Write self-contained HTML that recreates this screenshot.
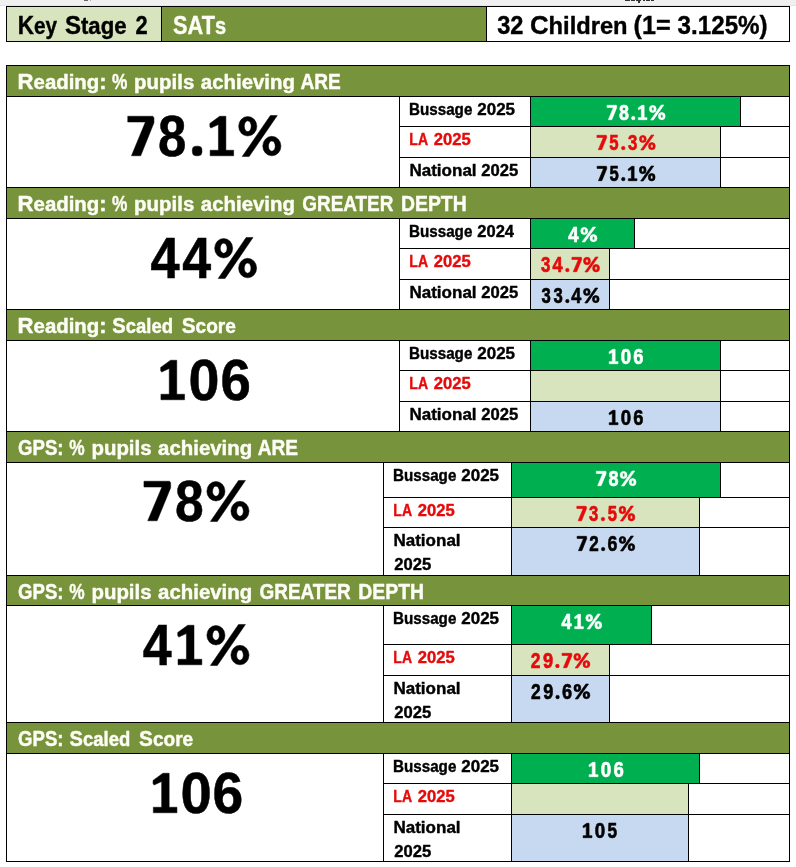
<!DOCTYPE html>
<html><head><meta charset="utf-8"><title>Key Stage 2 SATs</title>
<style>html,body{margin:0;padding:0;background:#fff;width:796px;height:867px;overflow:hidden;font-family:"Liberation Sans",sans-serif}svg{display:block}</style>
</head><body>
<svg width="796" height="867" viewBox="0 0 796 867" shape-rendering="crispEdges">
<rect x="0" y="0" width="796" height="867" fill="#ffffff"/>
<rect x="0" y="0" width="796" height="5" fill="#f0f0f0"/>
<rect x="0" y="5" width="796" height="1" fill="#e4e4e4"/>
<rect x="84" y="0" width="4" height="1" fill="#666666"/>
<rect x="90" y="0" width="1" height="1" fill="#aaaaaa"/>
<rect x="625" y="0" width="5" height="1" fill="#333333"/>
<rect x="631" y="0" width="4" height="1" fill="#333333"/>
<rect x="636" y="0" width="5" height="1" fill="#333333"/>
<rect x="638" y="0" width="2" height="3" fill="#333333"/>
<rect x="643" y="0" width="2" height="1" fill="#333333"/>
<rect x="646" y="0" width="4" height="1" fill="#333333"/>
<rect x="651" y="0" width="3" height="1" fill="#333333"/>
<rect x="6" y="6" width="155" height="35" fill="#d7e4bd"/>
<rect x="161" y="6" width="325" height="35" fill="#77933c"/>
<rect x="486" y="6" width="303" height="35" fill="#ffffff"/>
<rect x="6" y="65" width="783" height="31" fill="#77933c"/>
<rect x="6" y="96" width="783" height="91" fill="#ffffff"/>
<rect x="530" y="96" width="210" height="30" fill="#00b050"/>
<rect x="530" y="126" width="190" height="31" fill="#d7e4bd"/>
<rect x="530" y="157" width="190" height="30" fill="#c6d9f1"/>
<rect x="6" y="187" width="783" height="31" fill="#77933c"/>
<rect x="6" y="218" width="783" height="91" fill="#ffffff"/>
<rect x="530" y="218" width="104" height="30" fill="#00b050"/>
<rect x="530" y="248" width="79" height="31" fill="#d7e4bd"/>
<rect x="530" y="279" width="79" height="30" fill="#c6d9f1"/>
<rect x="6" y="309" width="783" height="31" fill="#77933c"/>
<rect x="6" y="340" width="783" height="91" fill="#ffffff"/>
<rect x="530" y="340" width="190" height="30" fill="#00b050"/>
<rect x="530" y="370" width="190" height="31" fill="#d7e4bd"/>
<rect x="530" y="401" width="190" height="30" fill="#c6d9f1"/>
<rect x="6" y="431" width="783" height="31" fill="#77933c"/>
<rect x="6" y="462" width="783" height="113" fill="#ffffff"/>
<rect x="511" y="462" width="209" height="35" fill="#00b050"/>
<rect x="511" y="497" width="188" height="30" fill="#d7e4bd"/>
<rect x="511" y="527" width="188" height="48" fill="#c6d9f1"/>
<rect x="6" y="575" width="783" height="30" fill="#77933c"/>
<rect x="6" y="605" width="783" height="117" fill="#ffffff"/>
<rect x="511" y="605" width="140" height="39" fill="#00b050"/>
<rect x="511" y="644" width="98" height="31" fill="#d7e4bd"/>
<rect x="511" y="675" width="98" height="47" fill="#c6d9f1"/>
<rect x="6" y="722" width="783" height="31" fill="#77933c"/>
<rect x="6" y="753" width="783" height="108" fill="#ffffff"/>
<rect x="511" y="753" width="188" height="30" fill="#00b050"/>
<rect x="511" y="783" width="177" height="31" fill="#d7e4bd"/>
<rect x="511" y="814" width="177" height="47" fill="#c6d9f1"/>
<rect x="6" y="6" width="784" height="1" fill="#000"/>
<rect x="6" y="41" width="784" height="1" fill="#000"/>
<rect x="6" y="6" width="1" height="36" fill="#000"/>
<rect x="789" y="6" width="1" height="36" fill="#000"/>
<rect x="161" y="6" width="1" height="36" fill="#000"/>
<rect x="486" y="6" width="1" height="36" fill="#000"/>
<rect x="6" y="65" width="784" height="1" fill="#000"/>
<rect x="6" y="96" width="784" height="1" fill="#000"/>
<rect x="6" y="187" width="784" height="1" fill="#000"/>
<rect x="6" y="65" width="1" height="123" fill="#000"/>
<rect x="789" y="65" width="1" height="123" fill="#000"/>
<rect x="399" y="96" width="1" height="92" fill="#000"/>
<rect x="530" y="96" width="1" height="92" fill="#000"/>
<rect x="740" y="96" width="1" height="31" fill="#000"/>
<rect x="399" y="126" width="391" height="1" fill="#000"/>
<rect x="720" y="126" width="1" height="32" fill="#000"/>
<rect x="399" y="157" width="391" height="1" fill="#000"/>
<rect x="720" y="157" width="1" height="31" fill="#000"/>
<rect x="6" y="187" width="784" height="1" fill="#000"/>
<rect x="6" y="218" width="784" height="1" fill="#000"/>
<rect x="6" y="309" width="784" height="1" fill="#000"/>
<rect x="6" y="187" width="1" height="123" fill="#000"/>
<rect x="789" y="187" width="1" height="123" fill="#000"/>
<rect x="399" y="218" width="1" height="92" fill="#000"/>
<rect x="530" y="218" width="1" height="92" fill="#000"/>
<rect x="634" y="218" width="1" height="31" fill="#000"/>
<rect x="399" y="248" width="391" height="1" fill="#000"/>
<rect x="609" y="248" width="1" height="32" fill="#000"/>
<rect x="399" y="279" width="391" height="1" fill="#000"/>
<rect x="609" y="279" width="1" height="31" fill="#000"/>
<rect x="6" y="309" width="784" height="1" fill="#000"/>
<rect x="6" y="340" width="784" height="1" fill="#000"/>
<rect x="6" y="431" width="784" height="1" fill="#000"/>
<rect x="6" y="309" width="1" height="123" fill="#000"/>
<rect x="789" y="309" width="1" height="123" fill="#000"/>
<rect x="399" y="340" width="1" height="92" fill="#000"/>
<rect x="530" y="340" width="1" height="92" fill="#000"/>
<rect x="720" y="340" width="1" height="31" fill="#000"/>
<rect x="399" y="370" width="391" height="1" fill="#000"/>
<rect x="720" y="370" width="1" height="32" fill="#000"/>
<rect x="399" y="401" width="391" height="1" fill="#000"/>
<rect x="720" y="401" width="1" height="31" fill="#000"/>
<rect x="6" y="431" width="784" height="1" fill="#000"/>
<rect x="6" y="462" width="784" height="1" fill="#000"/>
<rect x="6" y="575" width="784" height="1" fill="#000"/>
<rect x="6" y="431" width="1" height="145" fill="#000"/>
<rect x="789" y="431" width="1" height="145" fill="#000"/>
<rect x="383" y="462" width="1" height="114" fill="#000"/>
<rect x="511" y="462" width="1" height="114" fill="#000"/>
<rect x="720" y="462" width="1" height="36" fill="#000"/>
<rect x="383" y="497" width="407" height="1" fill="#000"/>
<rect x="699" y="497" width="1" height="31" fill="#000"/>
<rect x="383" y="527" width="407" height="1" fill="#000"/>
<rect x="699" y="527" width="1" height="49" fill="#000"/>
<rect x="6" y="575" width="784" height="1" fill="#000"/>
<rect x="6" y="605" width="784" height="1" fill="#000"/>
<rect x="6" y="722" width="784" height="1" fill="#000"/>
<rect x="6" y="575" width="1" height="148" fill="#000"/>
<rect x="789" y="575" width="1" height="148" fill="#000"/>
<rect x="383" y="605" width="1" height="118" fill="#000"/>
<rect x="511" y="605" width="1" height="118" fill="#000"/>
<rect x="651" y="605" width="1" height="40" fill="#000"/>
<rect x="383" y="644" width="407" height="1" fill="#000"/>
<rect x="609" y="644" width="1" height="32" fill="#000"/>
<rect x="383" y="675" width="407" height="1" fill="#000"/>
<rect x="609" y="675" width="1" height="48" fill="#000"/>
<rect x="6" y="722" width="784" height="1" fill="#000"/>
<rect x="6" y="753" width="784" height="1" fill="#000"/>
<rect x="6" y="861" width="784" height="1" fill="#000"/>
<rect x="6" y="722" width="1" height="140" fill="#000"/>
<rect x="789" y="722" width="1" height="140" fill="#000"/>
<rect x="383" y="753" width="1" height="109" fill="#000"/>
<rect x="511" y="753" width="1" height="109" fill="#000"/>
<rect x="699" y="753" width="1" height="31" fill="#000"/>
<rect x="383" y="783" width="407" height="1" fill="#000"/>
<rect x="688" y="783" width="1" height="32" fill="#000"/>
<rect x="383" y="814" width="407" height="1" fill="#000"/>
<rect x="688" y="814" width="1" height="48" fill="#000"/>
<g font-family="Liberation Sans, sans-serif" font-weight="bold" shape-rendering="auto" style="will-change:transform">
<text transform="translate(17.72,34.00) scale(0.8756,1)" font-size="25.75" fill="#000000" stroke="#000000" stroke-width="0.4" stroke-linejoin="round"><tspan font-size="25.75">K</tspan><tspan font-size="23.69">ey</tspan></text>
<text transform="translate(64.90,34.00) scale(0.9360,1)" font-size="25.75" fill="#000000" stroke="#000000" stroke-width="0.4" stroke-linejoin="round"><tspan font-size="25.75">S</tspan><tspan font-size="23.69">tage</tspan></text>
<text transform="translate(135.60,34.00) scale(0.8500,1)" font-size="25.75" fill="#000000" stroke="#000000" stroke-width="0.4" stroke-linejoin="round">2</text>
<text transform="translate(173.10,34.00) scale(0.8436,1)" font-size="25.75" fill="#fdfdf5" stroke="#fdfdf5" stroke-width="0.4" stroke-linejoin="round"><tspan font-size="25.75">SAT</tspan><tspan font-size="23.69">s</tspan></text>
<text transform="translate(497.20,34.00) scale(0.9180,1)" font-size="25.75" fill="#000000" stroke="#000000" stroke-width="0.4" stroke-linejoin="round">32</text>
<text transform="translate(530.00,34.00) scale(1.0001,1)" font-size="25.75" fill="#000000" stroke="#000000" stroke-width="0.4" stroke-linejoin="round"><tspan font-size="25.75">C</tspan><tspan font-size="23.69">hildren</tspan></text>
<text transform="translate(633.62,34.00) scale(0.9750,1)" font-size="25.75" fill="#000000" stroke="#000000" stroke-width="0.4" stroke-linejoin="round">(1=</text>
<text transform="translate(677.60,34.00) scale(0.9388,1)" font-size="25.75" fill="#000000" stroke="#000000" stroke-width="0.4" stroke-linejoin="round">3.125%)</text>
<text transform="translate(17.52,89.00) scale(1.0088,1)" font-size="22.00" fill="#fdfdf5" stroke="#fdfdf5" stroke-width="0.45" stroke-linejoin="round"><tspan font-size="22.00">R</tspan><tspan font-size="20.24">eading</tspan><tspan font-size="22.00">:</tspan></text>
<text transform="translate(112.02,89.00) scale(0.7868,1)" font-size="22.00" fill="#fdfdf5" stroke="#fdfdf5" stroke-width="0.45" stroke-linejoin="round">%</text>
<text transform="translate(134.11,89.00) scale(1.0107,1)" font-size="20.24" fill="#fdfdf5" stroke="#fdfdf5" stroke-width="0.45" stroke-linejoin="round">pupils</text>
<text transform="translate(200.82,89.00) scale(1.0084,1)" font-size="20.24" fill="#fdfdf5" stroke="#fdfdf5" stroke-width="0.45" stroke-linejoin="round">achieving</text>
<text transform="translate(300.43,89.00) scale(0.8684,1)" font-size="22.00" fill="#fdfdf5" stroke="#fdfdf5" stroke-width="0.45" stroke-linejoin="round">ARE</text>
<polygon points="127.75,116.25 152.88,116.25 153.95,117.75 153.95,122.85 140.69,155.75 131.47,155.75 145.41,122.02 127.75,122.02" fill="#000000" stroke="#000000" stroke-width="0.5" stroke-linejoin="round"/>
<text transform="translate(158.06,156.00) scale(0.8867,1)" font-size="57.50" fill="#000000" stroke="#000000" stroke-width="0.5" stroke-linejoin="round">8</text>
<rect x="192.35" y="146.15" width="9.60" height="9.60" rx="3.65" fill="#000000" stroke="#000000" stroke-width="0.5" stroke-linejoin="round"/>
<polygon points="219.68,116.25 225.89,116.25 225.89,150.26 233.65,150.26 233.65,155.75 210.14,155.75 210.14,150.26 218.42,150.26 218.42,124.51 210.83,128.10 209.85,126.60 209.85,123.40" fill="#000000" stroke="#000000" stroke-width="0.5" stroke-linejoin="round"/>
<path d="M238.65,126.24 A9.09,9.76 0 1 1 256.84,126.24 A9.09,9.76 0 1 1 238.65,126.24 Z M244.34,126.24 A3.41,5.10 0 1 0 251.15,126.24 A3.41,5.10 0 1 0 244.34,126.24 Z M262.76,146.07 A9.09,9.76 0 1 1 280.95,146.07 A9.09,9.76 0 1 1 262.76,146.07 Z M268.49,146.15 A3.36,5.06 0 1 0 275.22,146.15 A3.36,5.06 0 1 0 268.49,146.15 Z M270.38,115.46 L277.31,115.46 L249.14,156.54 L242.20,156.54 Z" fill="#000000" fill-rule="nonzero" stroke="#000000" stroke-width="0.5" stroke-linejoin="round"/>
<text transform="translate(409.08,115.00) scale(0.9201,1)" font-size="16.50" fill="#000000" stroke="#000000" stroke-width="0.4" stroke-linejoin="round">Bussage</text>
<text transform="translate(477.30,115.00) scale(1.0293,1)" font-size="16.50" fill="#000000" stroke="#000000" stroke-width="0.4" stroke-linejoin="round">2025</text>
<text transform="translate(409.35,145.00) scale(0.8492,1)" font-size="16.50" fill="#e60a0a" stroke="#e60a0a" stroke-width="0.4" stroke-linejoin="round">LA</text>
<text transform="translate(433.80,145.00) scale(1.0074,1)" font-size="16.50" fill="#e60a0a" stroke="#e60a0a" stroke-width="0.4" stroke-linejoin="round">2025</text>
<text transform="translate(409.47,176.00) scale(1.0314,1)" font-size="16.50" fill="#000000" stroke="#000000" stroke-width="0.4" stroke-linejoin="round">National</text>
<text transform="translate(481.30,176.00) scale(1.0101,1)" font-size="16.50" fill="#000000" stroke="#000000" stroke-width="0.4" stroke-linejoin="round">2025</text>
<polygon points="607.03,105.33 616.23,105.33 616.63,105.87 616.63,107.72 611.77,119.67 608.39,119.67 613.50,107.42 607.03,107.42" fill="#ffffff" stroke="#ffffff" stroke-width="0.65" stroke-linejoin="round"/>
<text transform="translate(619.01,120.00) scale(0.8128,1)" font-size="22.00" fill="#ffffff" stroke="#ffffff" stroke-width="0.65" stroke-linejoin="round">8</text>
<rect x="631.63" y="116.44" width="3.23" height="3.23" rx="1.23" fill="#ffffff" stroke="#ffffff" stroke-width="0.65" stroke-linejoin="round"/>
<polygon points="641.86,105.33 644.12,105.33 644.12,117.68 646.95,117.68 646.95,119.67 638.38,119.67 638.38,117.68 641.40,117.68 641.40,108.32 638.63,109.63 638.28,109.08 638.28,107.92" fill="#ffffff" stroke="#ffffff" stroke-width="0.65" stroke-linejoin="round"/>
<path d="M649.40,108.96 A3.39,3.54 0 1 1 656.18,108.96 A3.39,3.54 0 1 1 649.40,108.96 Z M651.52,108.96 A1.27,1.85 0 1 0 654.06,108.96 A1.27,1.85 0 1 0 651.52,108.96 Z M658.39,116.16 A3.39,3.54 0 1 1 665.17,116.16 A3.39,3.54 0 1 1 658.39,116.16 Z M660.53,116.19 A1.25,1.84 0 1 0 663.04,116.19 A1.25,1.84 0 1 0 660.53,116.19 Z M661.23,105.04 L663.82,105.04 L653.31,119.96 L650.72,119.96 Z" fill="#ffffff" fill-rule="nonzero" stroke="#ffffff" stroke-width="0.65" stroke-linejoin="round"/>
<polygon points="596.93,135.32 606.17,135.32 606.56,135.87 606.56,137.72 601.69,149.68 598.29,149.68 603.42,137.42 596.93,137.42" fill="#e60a0a" stroke="#e60a0a" stroke-width="0.65" stroke-linejoin="round"/>
<text transform="translate(609.26,150.00) scale(0.7638,1)" font-size="22.00" fill="#e60a0a" stroke="#e60a0a" stroke-width="0.65" stroke-linejoin="round">5</text>
<rect x="621.62" y="146.43" width="3.25" height="3.25" rx="1.23" fill="#e60a0a" stroke="#e60a0a" stroke-width="0.65" stroke-linejoin="round"/>
<text transform="translate(628.05,150.00) scale(0.7638,1)" font-size="22.00" fill="#e60a0a" stroke="#e60a0a" stroke-width="0.65" stroke-linejoin="round">3</text>
<path d="M639.44,138.96 A3.40,3.54 0 1 1 646.25,138.96 A3.40,3.54 0 1 1 639.44,138.96 Z M641.57,138.96 A1.28,1.85 0 1 0 644.12,138.96 A1.28,1.85 0 1 0 641.57,138.96 Z M648.47,146.16 A3.40,3.54 0 1 1 655.27,146.16 A3.40,3.54 0 1 1 648.47,146.16 Z M650.61,146.19 A1.26,1.84 0 1 0 653.13,146.19 A1.26,1.84 0 1 0 650.61,146.19 Z M651.32,135.04 L653.91,135.04 L643.37,149.96 L640.77,149.96 Z" fill="#e60a0a" fill-rule="nonzero" stroke="#e60a0a" stroke-width="0.65" stroke-linejoin="round"/>
<polygon points="597.12,166.32 606.30,166.32 606.69,166.87 606.69,168.72 601.85,180.68 598.48,180.68 603.57,168.42 597.12,168.42" fill="#000000" stroke="#000000" stroke-width="0.65" stroke-linejoin="round"/>
<text transform="translate(609.38,181.00) scale(0.7583,1)" font-size="22.00" fill="#000000" stroke="#000000" stroke-width="0.65" stroke-linejoin="round">5</text>
<rect x="621.65" y="177.46" width="3.22" height="3.22" rx="1.22" fill="#000000" stroke="#000000" stroke-width="0.65" stroke-linejoin="round"/>
<polygon points="631.84,166.32 634.10,166.32 634.10,178.68 636.91,178.68 636.91,180.68 628.37,180.68 628.37,178.68 631.38,178.68 631.38,169.32 628.62,170.63 628.27,170.08 628.27,168.92" fill="#000000" stroke="#000000" stroke-width="0.65" stroke-linejoin="round"/>
<path d="M639.36,169.96 A3.38,3.54 0 1 1 646.11,169.96 A3.38,3.54 0 1 1 639.36,169.96 Z M641.47,169.96 A1.27,1.85 0 1 0 644.00,169.96 A1.27,1.85 0 1 0 641.47,169.96 Z M648.32,177.16 A3.38,3.54 0 1 1 655.07,177.16 A3.38,3.54 0 1 1 648.32,177.16 Z M650.45,177.19 A1.25,1.84 0 1 0 652.95,177.19 A1.25,1.84 0 1 0 650.45,177.19 Z M651.15,166.04 L653.72,166.04 L643.25,180.96 L640.68,180.96 Z" fill="#000000" fill-rule="nonzero" stroke="#000000" stroke-width="0.65" stroke-linejoin="round"/>
<text transform="translate(17.52,211.00) scale(1.0088,1)" font-size="22.00" fill="#fdfdf5" stroke="#fdfdf5" stroke-width="0.45" stroke-linejoin="round"><tspan font-size="22.00">R</tspan><tspan font-size="20.24">eading</tspan><tspan font-size="22.00">:</tspan></text>
<text transform="translate(112.02,211.00) scale(0.7868,1)" font-size="22.00" fill="#fdfdf5" stroke="#fdfdf5" stroke-width="0.45" stroke-linejoin="round">%</text>
<text transform="translate(134.11,211.00) scale(1.0107,1)" font-size="20.24" fill="#fdfdf5" stroke="#fdfdf5" stroke-width="0.45" stroke-linejoin="round">pupils</text>
<text transform="translate(200.82,211.00) scale(1.0084,1)" font-size="20.24" fill="#fdfdf5" stroke="#fdfdf5" stroke-width="0.45" stroke-linejoin="round">achieving</text>
<text transform="translate(302.23,211.00) scale(0.8615,1)" font-size="22.00" fill="#fdfdf5" stroke="#fdfdf5" stroke-width="0.45" stroke-linejoin="round">GREATER</text>
<text transform="translate(401.04,211.00) scale(0.8813,1)" font-size="22.00" fill="#fdfdf5" stroke="#fdfdf5" stroke-width="0.45" stroke-linejoin="round">DEPTH</text>
<text transform="translate(150.55,278.00) scale(0.9125,1)" font-size="57.50" fill="#000000" stroke="#000000" stroke-width="0.5" stroke-linejoin="round">4</text>
<text transform="translate(182.15,278.00) scale(0.9031,1)" font-size="57.50" fill="#000000" stroke="#000000" stroke-width="0.5" stroke-linejoin="round">4</text>
<path d="M214.65,248.24 A9.03,9.76 0 1 1 232.71,248.24 A9.03,9.76 0 1 1 214.65,248.24 Z M220.29,248.24 A3.39,5.10 0 1 0 227.07,248.24 A3.39,5.10 0 1 0 220.29,248.24 Z M238.59,268.07 A9.03,9.76 0 1 1 256.65,268.07 A9.03,9.76 0 1 1 238.59,268.07 Z M244.28,268.15 A3.34,5.06 0 1 0 250.96,268.15 A3.34,5.06 0 1 0 244.28,268.15 Z M246.15,237.46 L253.04,237.46 L225.07,278.54 L218.18,278.54 Z" fill="#000000" fill-rule="nonzero" stroke="#000000" stroke-width="0.5" stroke-linejoin="round"/>
<text transform="translate(409.08,237.00) scale(0.9201,1)" font-size="16.50" fill="#000000" stroke="#000000" stroke-width="0.4" stroke-linejoin="round">Bussage</text>
<text transform="translate(477.30,237.00) scale(1.0019,1)" font-size="16.50" fill="#000000" stroke="#000000" stroke-width="0.4" stroke-linejoin="round">2024</text>
<text transform="translate(409.35,267.00) scale(0.8492,1)" font-size="16.50" fill="#e60a0a" stroke="#e60a0a" stroke-width="0.4" stroke-linejoin="round">LA</text>
<text transform="translate(433.80,267.00) scale(1.0074,1)" font-size="16.50" fill="#e60a0a" stroke="#e60a0a" stroke-width="0.4" stroke-linejoin="round">2025</text>
<text transform="translate(409.47,298.00) scale(1.0314,1)" font-size="16.50" fill="#000000" stroke="#000000" stroke-width="0.4" stroke-linejoin="round">National</text>
<text transform="translate(481.30,298.00) scale(1.0101,1)" font-size="16.50" fill="#000000" stroke="#000000" stroke-width="0.4" stroke-linejoin="round">2025</text>
<text transform="translate(568.33,242.00) scale(0.8444,1)" font-size="22.00" fill="#ffffff" stroke="#ffffff" stroke-width="0.65" stroke-linejoin="round">4</text>
<path d="M580.77,230.96 A3.48,3.54 0 1 1 587.74,230.96 A3.48,3.54 0 1 1 580.77,230.96 Z M582.95,230.96 A1.31,1.85 0 1 0 585.56,230.96 A1.31,1.85 0 1 0 582.95,230.96 Z M590.01,238.16 A3.48,3.54 0 1 1 596.97,238.16 A3.48,3.54 0 1 1 590.01,238.16 Z M592.20,238.19 A1.29,1.84 0 1 0 594.78,238.19 A1.29,1.84 0 1 0 592.20,238.19 Z M592.92,227.04 L595.58,227.04 L584.79,241.96 L582.13,241.96 Z" fill="#ffffff" fill-rule="nonzero" stroke="#ffffff" stroke-width="0.65" stroke-linejoin="round"/>
<text transform="translate(541.12,272.00) scale(0.7671,1)" font-size="22.00" fill="#e60a0a" stroke="#e60a0a" stroke-width="0.65" stroke-linejoin="round">3</text>
<text transform="translate(552.49,272.00) scale(0.8280,1)" font-size="22.00" fill="#e60a0a" stroke="#e60a0a" stroke-width="0.65" stroke-linejoin="round">4</text>
<rect x="565.68" y="268.41" width="3.26" height="3.26" rx="1.24" fill="#e60a0a" stroke="#e60a0a" stroke-width="0.65" stroke-linejoin="round"/>
<polygon points="571.90,257.32 581.19,257.32 581.58,257.87 581.58,259.72 576.69,271.68 573.28,271.68 578.43,259.42 571.90,259.42" fill="#e60a0a" stroke="#e60a0a" stroke-width="0.65" stroke-linejoin="round"/>
<path d="M583.58,260.96 A3.42,3.54 0 1 1 590.41,260.96 A3.42,3.54 0 1 1 583.58,260.96 Z M585.71,260.96 A1.28,1.85 0 1 0 588.28,260.96 A1.28,1.85 0 1 0 585.71,260.96 Z M592.64,268.16 A3.42,3.54 0 1 1 599.47,268.16 A3.42,3.54 0 1 1 592.64,268.16 Z M594.79,268.19 A1.26,1.84 0 1 0 597.32,268.19 A1.26,1.84 0 1 0 594.79,268.19 Z M595.50,257.04 L598.11,257.04 L587.52,271.96 L584.91,271.96 Z" fill="#e60a0a" fill-rule="nonzero" stroke="#e60a0a" stroke-width="0.65" stroke-linejoin="round"/>
<text transform="translate(541.43,303.00) scale(0.7587,1)" font-size="22.00" fill="#000000" stroke="#000000" stroke-width="0.65" stroke-linejoin="round">3</text>
<text transform="translate(553.45,303.00) scale(0.7587,1)" font-size="22.00" fill="#000000" stroke="#000000" stroke-width="0.65" stroke-linejoin="round">3</text>
<rect x="565.73" y="299.45" width="3.22" height="3.22" rx="1.22" fill="#000000" stroke="#000000" stroke-width="0.65" stroke-linejoin="round"/>
<text transform="translate(571.35,303.00) scale(0.8190,1)" font-size="22.00" fill="#000000" stroke="#000000" stroke-width="0.65" stroke-linejoin="round">4</text>
<path d="M583.45,291.96 A3.38,3.54 0 1 1 590.21,291.96 A3.38,3.54 0 1 1 583.45,291.96 Z M585.56,291.96 A1.27,1.85 0 1 0 588.10,291.96 A1.27,1.85 0 1 0 585.56,291.96 Z M592.41,299.16 A3.38,3.54 0 1 1 599.17,299.16 A3.38,3.54 0 1 1 592.41,299.16 Z M594.54,299.19 A1.25,1.84 0 1 0 597.04,299.19 A1.25,1.84 0 1 0 594.54,299.19 Z M595.24,288.04 L597.82,288.04 L587.35,302.96 L584.77,302.96 Z" fill="#000000" fill-rule="nonzero" stroke="#000000" stroke-width="0.65" stroke-linejoin="round"/>
<text transform="translate(17.52,333.00) scale(1.0088,1)" font-size="22.00" fill="#fdfdf5" stroke="#fdfdf5" stroke-width="0.45" stroke-linejoin="round"><tspan font-size="22.00">R</tspan><tspan font-size="20.24">eading</tspan><tspan font-size="22.00">:</tspan></text>
<text transform="translate(112.32,333.00) scale(0.9136,1)" font-size="22.00" fill="#fdfdf5" stroke="#fdfdf5" stroke-width="0.45" stroke-linejoin="round"><tspan font-size="22.00">S</tspan><tspan font-size="20.24">caled</tspan></text>
<text transform="translate(181.72,333.00) scale(0.9438,1)" font-size="22.00" fill="#fdfdf5" stroke="#fdfdf5" stroke-width="0.45" stroke-linejoin="round"><tspan font-size="22.00">S</tspan><tspan font-size="20.24">core</tspan></text>
<polygon points="170.52,360.25 176.76,360.25 176.76,394.26 184.55,394.26 184.55,399.75 160.94,399.75 160.94,394.26 169.25,394.26 169.25,368.51 161.63,372.10 160.65,370.60 160.65,367.40" fill="#000000" stroke="#000000" stroke-width="0.5" stroke-linejoin="round"/>
<text transform="translate(188.41,400.00) scale(0.9679,1)" font-size="57.50" fill="#000000" stroke="#000000" stroke-width="0.5" stroke-linejoin="round">0</text>
<text transform="translate(220.45,400.00) scale(0.9500,1)" font-size="57.50" fill="#000000" stroke="#000000" stroke-width="0.5" stroke-linejoin="round">6</text>
<text transform="translate(409.08,359.00) scale(0.9201,1)" font-size="16.50" fill="#000000" stroke="#000000" stroke-width="0.4" stroke-linejoin="round">Bussage</text>
<text transform="translate(477.30,359.00) scale(1.0293,1)" font-size="16.50" fill="#000000" stroke="#000000" stroke-width="0.4" stroke-linejoin="round">2025</text>
<text transform="translate(409.35,389.00) scale(0.8492,1)" font-size="16.50" fill="#e60a0a" stroke="#e60a0a" stroke-width="0.4" stroke-linejoin="round">LA</text>
<text transform="translate(433.80,389.00) scale(1.0074,1)" font-size="16.50" fill="#e60a0a" stroke="#e60a0a" stroke-width="0.4" stroke-linejoin="round">2025</text>
<text transform="translate(409.47,420.00) scale(1.0314,1)" font-size="16.50" fill="#000000" stroke="#000000" stroke-width="0.4" stroke-linejoin="round">National</text>
<text transform="translate(481.30,420.00) scale(1.0101,1)" font-size="16.50" fill="#000000" stroke="#000000" stroke-width="0.4" stroke-linejoin="round">2025</text>
<polygon points="612.79,349.32 615.11,349.32 615.11,361.68 618.00,361.68 618.00,363.68 609.23,363.68 609.23,361.68 612.32,361.68 612.32,352.32 609.49,353.63 609.12,353.08 609.12,351.92" fill="#ffffff" stroke="#ffffff" stroke-width="0.65" stroke-linejoin="round"/>
<text transform="translate(620.78,364.00) scale(0.8493,1)" font-size="22.00" fill="#ffffff" stroke="#ffffff" stroke-width="0.65" stroke-linejoin="round">0</text>
<text transform="translate(633.20,364.00) scale(0.8312,1)" font-size="22.00" fill="#ffffff" stroke="#ffffff" stroke-width="0.65" stroke-linejoin="round">6</text>
<polygon points="612.79,410.32 615.11,410.32 615.11,422.68 618.00,422.68 618.00,424.68 609.23,424.68 609.23,422.68 612.32,422.68 612.32,413.32 609.49,414.63 609.12,414.08 609.12,412.92" fill="#000000" stroke="#000000" stroke-width="0.65" stroke-linejoin="round"/>
<text transform="translate(620.78,425.00) scale(0.8493,1)" font-size="22.00" fill="#000000" stroke="#000000" stroke-width="0.65" stroke-linejoin="round">0</text>
<text transform="translate(633.20,425.00) scale(0.8312,1)" font-size="22.00" fill="#000000" stroke="#000000" stroke-width="0.65" stroke-linejoin="round">6</text>
<text transform="translate(18.03,455.00) scale(0.8454,1)" font-size="22.00" fill="#fdfdf5" stroke="#fdfdf5" stroke-width="0.45" stroke-linejoin="round">GPS:</text>
<text transform="translate(69.32,455.00) scale(0.7868,1)" font-size="22.00" fill="#fdfdf5" stroke="#fdfdf5" stroke-width="0.45" stroke-linejoin="round">%</text>
<text transform="translate(91.41,455.00) scale(1.0107,1)" font-size="20.24" fill="#fdfdf5" stroke="#fdfdf5" stroke-width="0.45" stroke-linejoin="round">pupils</text>
<text transform="translate(158.12,455.00) scale(1.0084,1)" font-size="20.24" fill="#fdfdf5" stroke="#fdfdf5" stroke-width="0.45" stroke-linejoin="round">achieving</text>
<text transform="translate(257.73,455.00) scale(0.8684,1)" font-size="22.00" fill="#fdfdf5" stroke="#fdfdf5" stroke-width="0.45" stroke-linejoin="round">ARE</text>
<polygon points="143.95,481.25 169.56,481.25 170.65,482.75 170.65,487.85 157.14,520.75 147.74,520.75 161.95,487.02 143.95,487.02" fill="#000000" stroke="#000000" stroke-width="0.5" stroke-linejoin="round"/>
<text transform="translate(175.05,521.00) scale(0.8967,1)" font-size="57.50" fill="#000000" stroke="#000000" stroke-width="0.5" stroke-linejoin="round">8</text>
<path d="M206.85,491.24 A9.07,9.76 0 1 1 225.00,491.24 A9.07,9.76 0 1 1 206.85,491.24 Z M212.52,491.24 A3.40,5.10 0 1 0 219.32,491.24 A3.40,5.10 0 1 0 212.52,491.24 Z M230.90,511.07 A9.07,9.76 0 1 1 249.05,511.07 A9.07,9.76 0 1 1 230.90,511.07 Z M236.62,511.15 A3.35,5.06 0 1 0 243.33,511.15 A3.35,5.06 0 1 0 236.62,511.15 Z M238.50,480.46 L245.42,480.46 L217.32,521.54 L210.39,521.54 Z" fill="#000000" fill-rule="nonzero" stroke="#000000" stroke-width="0.5" stroke-linejoin="round"/>
<text transform="translate(393.08,481.00) scale(0.9201,1)" font-size="16.50" fill="#000000" stroke="#000000" stroke-width="0.4" stroke-linejoin="round">Bussage</text>
<text transform="translate(461.30,481.00) scale(1.0293,1)" font-size="16.50" fill="#000000" stroke="#000000" stroke-width="0.4" stroke-linejoin="round">2025</text>
<text transform="translate(393.35,516.00) scale(0.8492,1)" font-size="16.50" fill="#e60a0a" stroke="#e60a0a" stroke-width="0.4" stroke-linejoin="round">LA</text>
<text transform="translate(417.80,516.00) scale(1.0074,1)" font-size="16.50" fill="#e60a0a" stroke="#e60a0a" stroke-width="0.4" stroke-linejoin="round">2025</text>
<text transform="translate(393.47,546.00) scale(1.0314,1)" font-size="16.50" fill="#000000" stroke="#000000" stroke-width="0.4" stroke-linejoin="round">National</text>
<text transform="translate(394.30,570.00) scale(1.0074,1)" font-size="16.50" fill="#000000" stroke="#000000" stroke-width="0.4" stroke-linejoin="round">2025</text>
<polygon points="596.33,471.32 605.61,471.32 606.01,471.87 606.01,473.72 601.11,485.68 597.70,485.68 602.85,473.42 596.33,473.42" fill="#ffffff" stroke="#ffffff" stroke-width="0.65" stroke-linejoin="round"/>
<text transform="translate(608.41,486.00) scale(0.8200,1)" font-size="22.00" fill="#ffffff" stroke="#ffffff" stroke-width="0.65" stroke-linejoin="round">8</text>
<path d="M620.16,474.96 A3.42,3.54 0 1 1 627.01,474.96 A3.42,3.54 0 1 1 620.16,474.96 Z M622.30,474.96 A1.28,1.85 0 1 0 624.87,474.96 A1.28,1.85 0 1 0 622.30,474.96 Z M629.23,482.16 A3.42,3.54 0 1 1 636.07,482.16 A3.42,3.54 0 1 1 629.23,482.16 Z M631.39,482.19 A1.26,1.84 0 1 0 633.92,482.19 A1.26,1.84 0 1 0 631.39,482.19 Z M632.10,471.04 L634.71,471.04 L624.11,485.96 L621.50,485.96 Z" fill="#ffffff" fill-rule="nonzero" stroke="#ffffff" stroke-width="0.65" stroke-linejoin="round"/>
<polygon points="576.83,506.32 586.00,506.32 586.39,506.87 586.39,508.72 581.55,520.67 578.18,520.67 583.27,508.42 576.83,508.42" fill="#e60a0a" stroke="#e60a0a" stroke-width="0.65" stroke-linejoin="round"/>
<text transform="translate(589.08,521.00) scale(0.7583,1)" font-size="22.00" fill="#e60a0a" stroke="#e60a0a" stroke-width="0.65" stroke-linejoin="round">3</text>
<rect x="601.35" y="517.46" width="3.22" height="3.22" rx="1.22" fill="#e60a0a" stroke="#e60a0a" stroke-width="0.65" stroke-linejoin="round"/>
<text transform="translate(607.74,521.00) scale(0.7583,1)" font-size="22.00" fill="#e60a0a" stroke="#e60a0a" stroke-width="0.65" stroke-linejoin="round">5</text>
<path d="M619.06,509.96 A3.38,3.54 0 1 1 625.81,509.96 A3.38,3.54 0 1 1 619.06,509.96 Z M621.17,509.96 A1.27,1.85 0 1 0 623.70,509.96 A1.27,1.85 0 1 0 621.17,509.96 Z M628.02,517.16 A3.38,3.54 0 1 1 634.77,517.16 A3.38,3.54 0 1 1 628.02,517.16 Z M630.15,517.19 A1.25,1.84 0 1 0 632.65,517.19 A1.25,1.84 0 1 0 630.15,517.19 Z M630.85,506.04 L633.42,506.04 L622.95,520.96 L620.38,520.96 Z" fill="#e60a0a" fill-rule="nonzero" stroke="#e60a0a" stroke-width="0.65" stroke-linejoin="round"/>
<polygon points="577.12,536.33 586.25,536.33 586.64,536.87 586.64,538.72 581.83,550.67 578.48,550.67 583.54,538.42 577.12,538.42" fill="#000000" stroke="#000000" stroke-width="0.65" stroke-linejoin="round"/>
<text transform="translate(589.20,551.00) scale(0.7729,1)" font-size="22.00" fill="#000000" stroke="#000000" stroke-width="0.65" stroke-linejoin="round">2</text>
<rect x="601.52" y="547.48" width="3.20" height="3.20" rx="1.22" fill="#000000" stroke="#000000" stroke-width="0.65" stroke-linejoin="round"/>
<text transform="translate(607.58,551.00) scale(0.8055,1)" font-size="22.00" fill="#000000" stroke="#000000" stroke-width="0.65" stroke-linejoin="round">6</text>
<path d="M619.14,539.96 A3.36,3.54 0 1 1 625.86,539.96 A3.36,3.54 0 1 1 619.14,539.96 Z M621.24,539.96 A1.26,1.85 0 1 0 623.76,539.96 A1.26,1.85 0 1 0 621.24,539.96 Z M628.05,547.16 A3.36,3.54 0 1 1 634.77,547.16 A3.36,3.54 0 1 1 628.05,547.16 Z M630.17,547.19 A1.24,1.84 0 1 0 632.66,547.19 A1.24,1.84 0 1 0 630.17,547.19 Z M630.87,536.04 L633.43,536.04 L623.02,550.96 L620.45,550.96 Z" fill="#000000" fill-rule="nonzero" stroke="#000000" stroke-width="0.65" stroke-linejoin="round"/>
<text transform="translate(18.03,599.00) scale(0.8454,1)" font-size="22.00" fill="#fdfdf5" stroke="#fdfdf5" stroke-width="0.45" stroke-linejoin="round">GPS:</text>
<text transform="translate(69.32,599.00) scale(0.7868,1)" font-size="22.00" fill="#fdfdf5" stroke="#fdfdf5" stroke-width="0.45" stroke-linejoin="round">%</text>
<text transform="translate(91.41,599.00) scale(1.0107,1)" font-size="20.24" fill="#fdfdf5" stroke="#fdfdf5" stroke-width="0.45" stroke-linejoin="round">pupils</text>
<text transform="translate(158.12,599.00) scale(1.0084,1)" font-size="20.24" fill="#fdfdf5" stroke="#fdfdf5" stroke-width="0.45" stroke-linejoin="round">achieving</text>
<text transform="translate(259.53,599.00) scale(0.8615,1)" font-size="22.00" fill="#fdfdf5" stroke="#fdfdf5" stroke-width="0.45" stroke-linejoin="round">GREATER</text>
<text transform="translate(358.34,599.00) scale(0.8813,1)" font-size="22.00" fill="#fdfdf5" stroke="#fdfdf5" stroke-width="0.45" stroke-linejoin="round">DEPTH</text>
<text transform="translate(142.75,665.00) scale(0.9031,1)" font-size="57.50" fill="#000000" stroke="#000000" stroke-width="0.5" stroke-linejoin="round">4</text>
<polygon points="187.70,625.25 193.99,625.25 193.99,659.26 201.85,659.26 201.85,664.75 178.04,664.75 178.04,659.26 186.43,659.26 186.43,633.51 178.74,637.10 177.75,635.60 177.75,632.40" fill="#000000" stroke="#000000" stroke-width="0.5" stroke-linejoin="round"/>
<path d="M206.85,635.24 A9.07,9.76 0 1 1 225.00,635.24 A9.07,9.76 0 1 1 206.85,635.24 Z M212.52,635.24 A3.40,5.10 0 1 0 219.32,635.24 A3.40,5.10 0 1 0 212.52,635.24 Z M230.90,655.07 A9.07,9.76 0 1 1 249.05,655.07 A9.07,9.76 0 1 1 230.90,655.07 Z M236.62,655.15 A3.35,5.06 0 1 0 243.33,655.15 A3.35,5.06 0 1 0 236.62,655.15 Z M238.50,624.46 L245.42,624.46 L217.32,665.54 L210.39,665.54 Z" fill="#000000" fill-rule="nonzero" stroke="#000000" stroke-width="0.5" stroke-linejoin="round"/>
<text transform="translate(393.08,624.00) scale(0.9201,1)" font-size="16.50" fill="#000000" stroke="#000000" stroke-width="0.4" stroke-linejoin="round">Bussage</text>
<text transform="translate(461.30,624.00) scale(1.0293,1)" font-size="16.50" fill="#000000" stroke="#000000" stroke-width="0.4" stroke-linejoin="round">2025</text>
<text transform="translate(393.35,663.00) scale(0.8492,1)" font-size="16.50" fill="#e60a0a" stroke="#e60a0a" stroke-width="0.4" stroke-linejoin="round">LA</text>
<text transform="translate(417.80,663.00) scale(1.0074,1)" font-size="16.50" fill="#e60a0a" stroke="#e60a0a" stroke-width="0.4" stroke-linejoin="round">2025</text>
<text transform="translate(393.47,694.00) scale(1.0314,1)" font-size="16.50" fill="#000000" stroke="#000000" stroke-width="0.4" stroke-linejoin="round">National</text>
<text transform="translate(394.30,718.00) scale(1.0074,1)" font-size="16.50" fill="#000000" stroke="#000000" stroke-width="0.4" stroke-linejoin="round">2025</text>
<text transform="translate(561.53,629.00) scale(0.8256,1)" font-size="22.00" fill="#ffffff" stroke="#ffffff" stroke-width="0.65" stroke-linejoin="round">4</text>
<polygon points="578.25,614.33 580.52,614.33 580.52,626.68 583.37,626.68 583.37,628.67 574.75,628.67 574.75,626.68 577.78,626.68 577.78,617.32 575.00,618.63 574.65,618.08 574.65,616.92" fill="#ffffff" stroke="#ffffff" stroke-width="0.65" stroke-linejoin="round"/>
<path d="M585.82,617.96 A3.41,3.54 0 1 1 592.64,617.96 A3.41,3.54 0 1 1 585.82,617.96 Z M587.95,617.96 A1.28,1.85 0 1 0 590.51,617.96 A1.28,1.85 0 1 0 587.95,617.96 Z M594.86,625.16 A3.41,3.54 0 1 1 601.67,625.16 A3.41,3.54 0 1 1 594.86,625.16 Z M597.01,625.19 A1.26,1.84 0 1 0 599.53,625.19 A1.26,1.84 0 1 0 597.01,625.19 Z M597.71,614.04 L600.31,614.04 L589.75,628.96 L587.15,628.96 Z" fill="#ffffff" fill-rule="nonzero" stroke="#ffffff" stroke-width="0.65" stroke-linejoin="round"/>
<text transform="translate(530.83,668.00) scale(0.7945,1)" font-size="22.00" fill="#e60a0a" stroke="#e60a0a" stroke-width="0.65" stroke-linejoin="round">2</text>
<text transform="translate(542.89,668.00) scale(0.8279,1)" font-size="22.00" fill="#e60a0a" stroke="#e60a0a" stroke-width="0.65" stroke-linejoin="round">9</text>
<rect x="555.74" y="664.37" width="3.30" height="3.30" rx="1.25" fill="#e60a0a" stroke="#e60a0a" stroke-width="0.65" stroke-linejoin="round"/>
<polygon points="562.03,653.33 571.41,653.33 571.81,653.87 571.81,655.72 566.86,667.67 563.41,667.67 568.62,655.42 562.03,655.42" fill="#e60a0a" stroke="#e60a0a" stroke-width="0.65" stroke-linejoin="round"/>
<path d="M573.81,656.96 A3.45,3.54 0 1 1 580.72,656.96 A3.45,3.54 0 1 1 573.81,656.96 Z M575.97,656.96 A1.29,1.85 0 1 0 578.56,656.96 A1.29,1.85 0 1 0 575.97,656.96 Z M582.97,664.16 A3.45,3.54 0 1 1 589.88,664.16 A3.45,3.54 0 1 1 582.97,664.16 Z M585.15,664.19 A1.28,1.84 0 1 0 587.70,664.19 A1.28,1.84 0 1 0 585.15,664.19 Z M585.86,653.04 L588.49,653.04 L577.80,667.96 L575.16,667.96 Z" fill="#e60a0a" fill-rule="nonzero" stroke="#e60a0a" stroke-width="0.65" stroke-linejoin="round"/>
<text transform="translate(531.12,699.00) scale(0.7902,1)" font-size="22.00" fill="#000000" stroke="#000000" stroke-width="0.65" stroke-linejoin="round">2</text>
<text transform="translate(543.13,699.00) scale(0.8235,1)" font-size="22.00" fill="#000000" stroke="#000000" stroke-width="0.65" stroke-linejoin="round">9</text>
<rect x="555.91" y="695.39" width="3.28" height="3.28" rx="1.25" fill="#000000" stroke="#000000" stroke-width="0.65" stroke-linejoin="round"/>
<text transform="translate(562.09,699.00) scale(0.8235,1)" font-size="22.00" fill="#000000" stroke="#000000" stroke-width="0.65" stroke-linejoin="round">6</text>
<path d="M573.90,687.96 A3.44,3.54 0 1 1 580.77,687.96 A3.44,3.54 0 1 1 573.90,687.96 Z M576.05,687.96 A1.29,1.85 0 1 0 578.62,687.96 A1.29,1.85 0 1 0 576.05,687.96 Z M583.00,695.16 A3.44,3.54 0 1 1 589.88,695.16 A3.44,3.54 0 1 1 583.00,695.16 Z M585.17,695.19 A1.27,1.84 0 1 0 587.71,695.19 A1.27,1.84 0 1 0 585.17,695.19 Z M585.88,684.04 L588.50,684.04 L577.86,698.96 L575.24,698.96 Z" fill="#000000" fill-rule="nonzero" stroke="#000000" stroke-width="0.65" stroke-linejoin="round"/>
<text transform="translate(18.03,746.00) scale(0.8454,1)" font-size="22.00" fill="#fdfdf5" stroke="#fdfdf5" stroke-width="0.45" stroke-linejoin="round">GPS:</text>
<text transform="translate(69.62,746.00) scale(0.9136,1)" font-size="22.00" fill="#fdfdf5" stroke="#fdfdf5" stroke-width="0.45" stroke-linejoin="round"><tspan font-size="22.00">S</tspan><tspan font-size="20.24">caled</tspan></text>
<text transform="translate(139.03,746.00) scale(0.9438,1)" font-size="22.00" fill="#fdfdf5" stroke="#fdfdf5" stroke-width="0.45" stroke-linejoin="round"><tspan font-size="22.00">S</tspan><tspan font-size="20.24">core</tspan></text>
<polygon points="162.92,773.25 169.16,773.25 169.16,807.26 176.95,807.26 176.95,812.75 153.34,812.75 153.34,807.26 161.65,807.26 161.65,781.51 154.03,785.10 153.05,783.60 153.05,780.40" fill="#000000" stroke="#000000" stroke-width="0.5" stroke-linejoin="round"/>
<text transform="translate(180.39,813.00) scale(0.9786,1)" font-size="57.50" fill="#000000" stroke="#000000" stroke-width="0.5" stroke-linejoin="round">0</text>
<text transform="translate(212.43,813.00) scale(0.9607,1)" font-size="57.50" fill="#000000" stroke="#000000" stroke-width="0.5" stroke-linejoin="round">6</text>
<text transform="translate(393.08,772.00) scale(0.9201,1)" font-size="16.50" fill="#000000" stroke="#000000" stroke-width="0.4" stroke-linejoin="round">Bussage</text>
<text transform="translate(461.30,772.00) scale(1.0293,1)" font-size="16.50" fill="#000000" stroke="#000000" stroke-width="0.4" stroke-linejoin="round">2025</text>
<text transform="translate(393.35,802.00) scale(0.8492,1)" font-size="16.50" fill="#e60a0a" stroke="#e60a0a" stroke-width="0.4" stroke-linejoin="round">LA</text>
<text transform="translate(417.80,802.00) scale(1.0074,1)" font-size="16.50" fill="#e60a0a" stroke="#e60a0a" stroke-width="0.4" stroke-linejoin="round">2025</text>
<text transform="translate(393.47,833.00) scale(1.0314,1)" font-size="16.50" fill="#000000" stroke="#000000" stroke-width="0.4" stroke-linejoin="round">National</text>
<text transform="translate(394.30,857.00) scale(1.0074,1)" font-size="16.50" fill="#000000" stroke="#000000" stroke-width="0.4" stroke-linejoin="round">2025</text>
<polygon points="592.74,762.33 595.08,762.33 595.08,774.68 598.01,774.68 598.01,776.67 589.13,776.67 589.13,774.68 592.26,774.68 592.26,765.32 589.39,766.63 589.03,766.08 589.03,764.92" fill="#ffffff" stroke="#ffffff" stroke-width="0.65" stroke-linejoin="round"/>
<text transform="translate(600.81,777.00) scale(0.8597,1)" font-size="22.00" fill="#ffffff" stroke="#ffffff" stroke-width="0.65" stroke-linejoin="round">0</text>
<text transform="translate(613.38,777.00) scale(0.8414,1)" font-size="22.00" fill="#ffffff" stroke="#ffffff" stroke-width="0.65" stroke-linejoin="round">6</text>
<polygon points="586.72,823.33 589.05,823.33 589.05,835.68 591.96,835.68 591.96,837.67 583.13,837.67 583.13,835.68 586.24,835.68 586.24,826.32 583.39,827.63 583.03,827.08 583.03,825.92" fill="#000000" stroke="#000000" stroke-width="0.65" stroke-linejoin="round"/>
<text transform="translate(594.75,838.00) scale(0.8550,1)" font-size="22.00" fill="#000000" stroke="#000000" stroke-width="0.65" stroke-linejoin="round">0</text>
<text transform="translate(607.57,838.00) scale(0.7836,1)" font-size="22.00" fill="#000000" stroke="#000000" stroke-width="0.65" stroke-linejoin="round">5</text>
</g></svg>
</body></html>
